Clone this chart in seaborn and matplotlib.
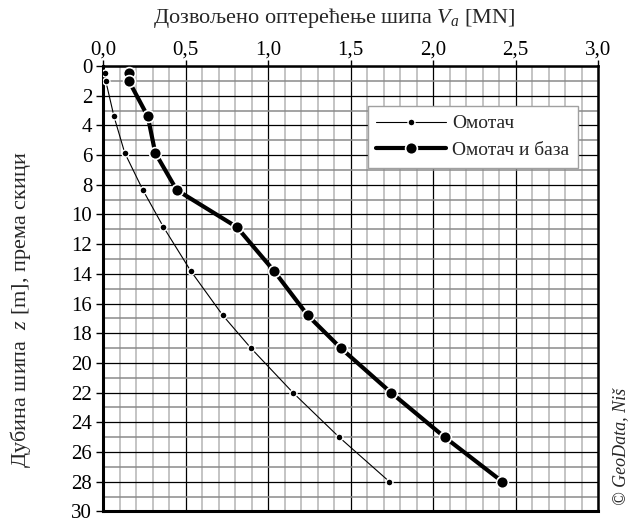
import numpy as np
import pandas as pd
import seaborn as sns
import matplotlib
matplotlib.use("Agg")
import matplotlib.pyplot as plt
from matplotlib.ticker import MultipleLocator, FuncFormatter

# Depth below pile head [m]
depth = [0.5, 1.0, 3.4, 5.85, 8.35, 10.85, 13.8, 16.8, 19.0, 22.0, 25.0, 28.0]
# Allowable pile load [MN] — shaft only
shaft = [0.01, 0.015, 0.065, 0.13, 0.24, 0.365, 0.53, 0.725, 0.895, 1.15, 1.43, 1.735]
# Allowable pile load [MN] — shaft and base
shaft_base = [0.155, 0.155, 0.27, 0.315, 0.445, 0.81, 1.035, 1.24, 1.44, 1.745, 2.07, 2.42]

series_names = ["Омотач", "Омотач и база"]

sns.set_theme(style="white")
plt.rcParams["font.family"] = ["Liberation Serif", "DejaVu Serif"]
plt.rcParams["mathtext.fontset"] = "custom"
plt.rcParams["mathtext.rm"] = "Liberation Serif"
plt.rcParams["mathtext.it"] = "Liberation Serif:italic"

df_shaft = pd.DataFrame({"V": shaft, "z": depth})
df_base = pd.DataFrame({"V": shaft_base, "z": depth})

fig = plt.figure(figsize=(6.29, 5.21), dpi=100)
ax = fig.add_axes([0.1642, 0.0185, 0.9507 - 0.1642, 0.8733 - 0.0185])

sns.lineplot(data=df_shaft, x="V", y="z", sort=False, estimator=None, ax=ax,
             color="black", linewidth=0.8, marker="o", markersize=5,
             markeredgecolor="white", markeredgewidth=1.0,
             label=series_names[0], zorder=5)
sns.lineplot(data=df_base, x="V", y="z", sort=False, estimator=None, ax=ax,
             color="black", linewidth=3.0, marker="o", markersize=8.5,
             markeredgecolor="white", markeredgewidth=1.2,
             label=series_names[1], zorder=6)

ax.set_xlim(0, 3.0)
ax.set_ylim(30, 0)

ax.xaxis.set_major_locator(MultipleLocator(0.5))
ax.xaxis.set_minor_locator(MultipleLocator(0.1))
ax.yaxis.set_major_locator(MultipleLocator(2))
ax.yaxis.set_minor_locator(MultipleLocator(1))
ax.xaxis.set_major_formatter(FuncFormatter(lambda v, p: f"{v:.1f}".replace(".", ",")))
ax.yaxis.set_major_formatter(FuncFormatter(lambda v, p: f"{int(round(v))}"))

ax.xaxis.tick_top()
ax.xaxis.set_label_position("top")
ax.tick_params(axis="x", which="major", direction="out", length=4, width=1,
               colors="black", labelsize=15, pad=1, top=True, bottom=False)
ax.tick_params(axis="y", which="major", direction="out", length=5, width=1,
               colors="black", labelsize=15, pad=3, left=True)
ax.tick_params(which="minor", length=0)

# grid: light minor lines, dark major lines
ax.grid(which="minor", axis="x", color="#b4b4b4", linewidth=1.1, zorder=0)
ax.grid(which="minor", axis="y", color="#8a8a8a", linewidth=1.1, zorder=0)
ax.grid(which="major", axis="both", color="black", linewidth=0.9, zorder=1)
ax.set_axisbelow(True)

for s in ax.spines.values():
    s.set_visible(True)
    s.set_color("black")
    s.set_linewidth(1.8)
ax.spines["left"].set_linewidth(2.2)
ax.spines["bottom"].set_linewidth(2.2)

ax.set_xlabel("")
ax.set_ylabel("")

fig.text(0.531, 0.966, "Дозвољено оптерећење шипа $V_a$ [MN]",
         ha="center", va="center", fontsize=16)
fig.text(0.033, 0.405, "Дубина шипа  $z$ [m], према скици",
         ha="center", va="center", rotation=90, fontsize=16)
fig.text(0.986, 0.030, "© GeoData, Niš", ha="center", va="bottom",
         rotation=90, fontsize=13, style="italic")

leg = ax.legend(loc="upper right", bbox_to_anchor=(0.96, 0.91), borderaxespad=0,
                fontsize=14, frameon=True, fancybox=False, framealpha=1,
                edgecolor="#a0a0a0", handlelength=3.6, borderpad=0.45,
                labelspacing=0.45, handletextpad=0.3)
leg.get_frame().set_linewidth(1.0)

fig.savefig("out.png", dpi=100)
